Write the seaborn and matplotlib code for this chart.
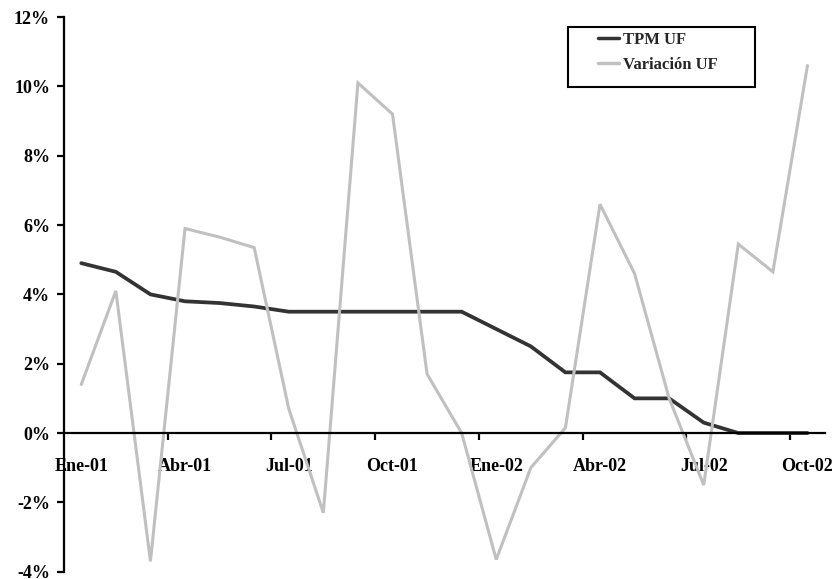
import numpy as np
import pandas as pd
import matplotlib
matplotlib.use("Agg")
import matplotlib.pyplot as plt
from matplotlib.patches import Rectangle
from matplotlib.ticker import FixedLocator, FuncFormatter
import seaborn as sns

# Monthly series, Jan-2001 .. Oct-2002 (percent)
months = ["Ene-01", "Feb-01", "Mar-01", "Abr-01", "May-01", "Jun-01",
          "Jul-01", "Ago-01", "Sep-01", "Oct-01", "Nov-01", "Dic-01",
          "Ene-02", "Feb-02", "Mar-02", "Abr-02", "May-02", "Jun-02",
          "Jul-02", "Ago-02", "Sep-02", "Oct-02"]
tpm_uf = [4.9, 4.65, 4.0, 3.8, 3.75, 3.65, 3.5, 3.5, 3.5, 3.5, 3.5, 3.5,
          3.0, 2.5, 1.75, 1.75, 1.0, 1.0, 0.3, 0.0, 0.0, 0.0]
variacion_uf = [1.4, 4.1, -3.7, 5.9, 5.65, 5.35, 0.7, -2.3, 10.1, 9.2, 1.7, 0.0,
                -3.65, -1.0, 0.15, 6.6, 4.6, 1.0, -1.5, 5.45, 4.65, 10.6]
series_names = ["TPM UF", "Variación UF"]
series_colors = ["#333333", "#c0c0c0"]
y_ticks = [-4, -2, 0, 2, 4, 6, 8, 10, 12]

sns.set_theme(style="white")
plt.rcParams["font.family"] = ["Liberation Serif", "DejaVu Serif"]
plt.rcParams["font.weight"] = "bold"

pos = np.arange(len(months))
df = pd.DataFrame({
    "pos": np.concatenate([pos, pos]),
    "valor": tpm_uf + variacion_uf,
    "serie": [series_names[0]] * len(months) + [series_names[1]] * len(months),
})

fig = plt.figure(figsize=(8.32, 5.79), dpi=100)
ax = fig.add_axes([0.0769, 0.0126, 0.9144, 0.958])

sns.lineplot(data=df, x="pos", y="valor", hue="serie", hue_order=series_names,
             palette=dict(zip(series_names, series_colors)), ax=ax,
             linewidth=2.3, legend=False, sort=False)
for ln, w in zip(ax.get_lines(), [2.7, 2.2]):
    ln.set_linewidth(w)
    ln.set_solid_joinstyle("miter")

ax.set_xlim(-0.5, len(months) - 0.5)
ax.set_ylim(-4, 12)
ax.set_xlabel("")
ax.set_ylabel("")

# spines: y axis on the left, category axis through zero
for s in ["top", "right"]:
    ax.spines[s].set_visible(False)
ax.spines["bottom"].set_position(("data", 0))
for s in ["left", "bottom"]:
    ax.spines[s].set_linewidth(1.6)
    ax.spines[s].set_color("black")

ax.yaxis.set_major_locator(FixedLocator(y_ticks))
ax.yaxis.set_major_formatter(FuncFormatter(lambda v, p: f"{int(round(v))}%"))
ax.tick_params(axis="y", which="major", direction="out", length=5, width=1.6,
               color="black", left=True, pad=5, labelsize=13)

label_pos = pos[::3]
ax.set_xticks(label_pos)
ax.set_xticklabels([months[i] for i in label_pos])
ax.set_xticks(np.arange(2.5, len(months) - 0.5, 3), minor=True)
ax.tick_params(axis="x", which="major", length=0, pad=18, labelsize=13)
ax.tick_params(axis="x", which="minor", direction="out", length=5, width=1.6,
               color="black", bottom=True)
for t in ax.get_xticklabels() + ax.get_yticklabels():
    t.set_fontweight("bold")
    t.set_color("black")

# legend with a fixed box
handles = [plt.Line2D([], [], color=c, linewidth=2.5) for c in series_colors]
fig.legend(handles, series_names, loc="upper left",
           bbox_to_anchor=(0.719, 0.945), bbox_transform=fig.transFigure,
           frameon=False, borderpad=0, borderaxespad=0, handlelength=1.25,
           handletextpad=0.25, labelspacing=0.55,
           prop={"family": "Liberation Serif", "weight": "bold", "size": 12})
fig.add_artist(Rectangle((0.6827, 0.8497), 0.2248, 0.1036, transform=fig.transFigure,
                         fill=False, edgecolor="black", linewidth=1.5))

fig.savefig("out.png", dpi=100)
